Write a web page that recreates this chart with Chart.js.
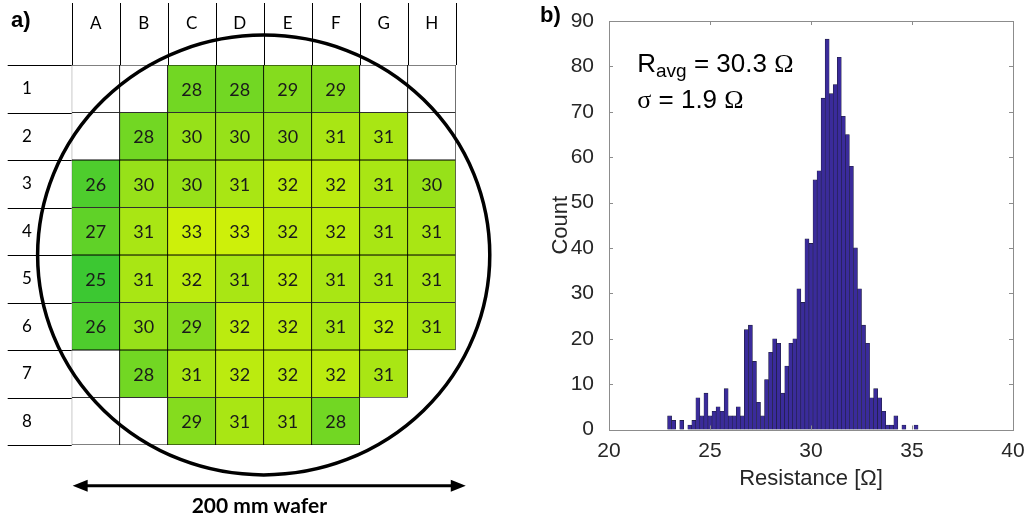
<!DOCTYPE html>
<html lang="en">
<head>
<meta charset="UTF-8">
<title>Wafer resistance map and histogram</title>
<script src="https://cdn.jsdelivr.net/npm/chart.js"></script>
<style>
  body { margin: 0; background: #fff; width: 1029px; height: 529px; overflow: hidden; position: relative; }
  .panel { position: absolute; top: 0; height: 529px; }
  #waferWrap { left: 0; width: 520px; }
  #histWrap { left: 530px; width: 499px; }
</style>
</head>
<body>
<div class="panel" id="waferWrap"><canvas id="waferChart"></canvas></div>
<div class="panel" id="histWrap"><canvas id="histChart"></canvas></div>
<script>
// ---- panel a) die map, values in ohm (null = empty outlined die)
const columns = ['A', 'B', 'C', 'D', 'E', 'F', 'G', 'H'];
const rowLabels = ['1', '2', '3', '4', '5', '6', '7', '8'];
const row1 = [null, null, 28, 28, 29, 29, null, null];
const row2 = [null, 28, 30, 30, 30, 31, 31, null];
const row3 = [26, 30, 30, 31, 32, 32, 31, 30];
const row4 = [27, 31, 33, 33, 32, 32, 31, 31];
const row5 = [25, 31, 32, 31, 32, 31, 31, 31];
const row6 = [26, 30, 29, 32, 32, 31, 32, 31];
const row7 = [null, 28, 31, 32, 32, 32, 31];
const row8 = [null, null, 29, 31, 31, 28];
const waferRows = [row1, row2, row3, row4, row5, row6, row7, row8];

// ---- panel b) histogram
const binStart = 22.9;
const binWidth = 0.2;
const counts = [3, 2, 0, 2, 0, 1, 2, 7, 3, 8, 3, 4, 5, 4, 9, 3, 3, 5, 3, 22,
                23, 15, 6, 3, 11, 17, 20, 19, 8, 14, 19, 20, 31, 28, 42, 41, 55, 57, 73, 86,
                74, 76, 82, 69, 65, 58, 40, 31, 23, 19, 7, 9, 7, 4, 1, 1, 3, 0, 1, 0,
                0, 1];
const xTicks = [20, 25, 30, 35, 40];
const yMax = 90;

// colour scale: low value -> green, high value -> yellow-green
const valueRange = [25, 33];
const colorLow = [60, 200, 50];
const colorHigh = [205, 240, 10];
function cellColor(v) {
    const t = (v - valueRange[0]) / (valueRange[1] - valueRange[0]);
    const c = colorLow.map((lo, k) => Math.round(lo + (colorHigh[k] - lo) * t));
    return 'rgb(' + c.join(',') + ')';
}

const waferDatasets = waferRows.map((row, r) => ({
    label: 'Row ' + rowLabels[r],
    data: row.map(() => [r, r + 1]),
    values: row,
    backgroundColor: row.map(v => v == null ? '#ffffff' : cellColor(v)),
    borderColor: '#000',
    borderWidth: 0.75,
    borderSkipped: false,
    grouped: false,
    barPercentage: 1,
    categoryPercentage: 1
}));

const cellText = {
    id: 'cellText',
    afterDatasetsDraw(chart) {
        const ctx = chart.ctx;
        ctx.save();
        ctx.font = '18px Lato';
        ctx.fillStyle = '#1a1a1a';
        ctx.textAlign = 'center';
        ctx.textBaseline = 'middle';
        chart.data.datasets.forEach((ds, di) => {
            chart.getDatasetMeta(di).data.forEach((bar, i) => {
                const v = ds.values[i];
                if (v == null) return;
                const c = bar.getCenterPoint();
                ctx.fillText(String(v), c.x, c.y + 1);
            });
        });
        ctx.restore();
    }
};

const waferDecor = {
    id: 'waferDecor',
    afterDraw(chart) {
        const ctx = chart.ctx;
        const xs = chart.scales.x, ys = chart.scales.y;
        const area = chart.chartArea;
        ctx.save();
        // header column separators and row label separators
        ctx.strokeStyle = '#000';
        ctx.lineWidth = 1;
        ctx.beginPath();
        for (let i = 0; i <= columns.length; i++) {
            const px = Math.round(xs.getPixelForValue(i - 0.5)) + 0.5;
            ctx.moveTo(px, area.top - 62);
            ctx.lineTo(px, area.top);
        }
        for (let r = 0; r <= rowLabels.length; r++) {
            const py = Math.round(ys.getPixelForValue(r)) + 0.5;
            ctx.moveTo(area.left - 64, py);
            ctx.lineTo(area.left, py);
        }
        ctx.stroke();

        // wafer outline
        const cx = xs.getPixelForValue(3.5), cy = ys.getPixelForValue(4);
        const rx = xs.getPixelForValue(3.5 + 4.71) - cx;
        const ry = ys.getPixelForValue(4 + 4.63) - cy;
        ctx.lineWidth = 3.5;
        ctx.beginPath();
        ctx.ellipse(cx, cy, rx, ry, 0, 0, Math.PI * 2);
        ctx.stroke();

        // 200 mm arrow
        const x1 = xs.getPixelForValue(-0.48), x2 = xs.getPixelForValue(7.71);
        const ay = ys.getPixelForValue(8.86);
        const head = 15, hw = 6;
        ctx.lineWidth = 3;
        ctx.beginPath();
        ctx.moveTo(x1 + head - 2, ay);
        ctx.lineTo(x2 - head + 2, ay);
        ctx.stroke();
        ctx.fillStyle = '#000';
        ctx.beginPath();
        ctx.moveTo(x1, ay); ctx.lineTo(x1 + head, ay - hw); ctx.lineTo(x1 + head, ay + hw); ctx.closePath();
        ctx.moveTo(x2, ay); ctx.lineTo(x2 - head, ay - hw); ctx.lineTo(x2 - head, ay + hw); ctx.closePath();
        ctx.fill();

        ctx.font = 'bold 21px Lato';
        ctx.textAlign = 'center';
        ctx.textBaseline = 'middle';
        ctx.fillText('200 mm wafer', xs.getPixelForValue(3.41), ys.getPixelForValue(9.28));

        ctx.font = 'bold 22px "Liberation Sans"';
        ctx.textAlign = 'left';
        ctx.fillText('a)', 11, 21);
        ctx.restore();
    }
};

new Chart(document.getElementById('waferChart'), {
    type: 'bar',
    data: { labels: columns, datasets: waferDatasets },
    options: {
        responsive: true,
        maintainAspectRatio: false,
        animation: false,
        layout: { padding: { left: 22, top: 0, right: 64.3, bottom: 84 } },
        plugins: { legend: { display: false }, tooltip: { enabled: false } },
        scales: {
            x: {
                type: 'category',
                position: 'top',
                offset: true,
                grid: { display: false },
                border: { display: false },
                ticks: { font: { family: 'Lato', size: 17 }, color: '#000', padding: 23 },
                afterFit: s => { s.height = 65; }
            },
            y: {
                type: 'linear',
                min: 0,
                max: 8,
                reverse: true,
                grid: { display: false },
                border: { display: false },
                afterBuildTicks: s => { s.ticks = rowLabels.map((_, i) => ({ value: i + 0.5 })); },
                ticks: {
                    crossAlign: 'far',
                    autoSkip: false,
                    font: { family: 'Lato', size: 17 },
                    color: '#000',
                    callback: (v, i) => rowLabels[i]
                },
                afterFit: s => { s.width = 49.7; }
            }
        }
    },
    plugins: [cellText, waferDecor]
});

// ---- histogram
const axisGray = '#8c8c8c';
const textGray = '#262626';

const histFrame = {
    id: 'histFrame',
    afterDraw(chart) {
        const ctx = chart.ctx;
        const a = chart.chartArea;
        const xs = chart.scales.x, ys = chart.scales.y;
        const tl = 4;
        ctx.save();
        ctx.strokeStyle = axisGray;
        ctx.lineWidth = 1;
        ctx.strokeRect(Math.round(a.left) + 0.5, Math.round(a.top) + 0.5,
                       Math.round(a.right - a.left), Math.round(a.bottom - a.top));
        ctx.beginPath();
        xs.ticks.forEach(t => {
            const px = Math.round(xs.getPixelForValue(t.value)) + 0.5;
            ctx.moveTo(px, a.bottom); ctx.lineTo(px, a.bottom - tl);
            ctx.moveTo(px, a.top); ctx.lineTo(px, a.top + tl);
        });
        ys.ticks.forEach(t => {
            const py = Math.round(ys.getPixelForValue(t.value)) + 0.5;
            ctx.moveTo(a.left, py); ctx.lineTo(a.left + tl, py);
            ctx.moveTo(a.right, py); ctx.lineTo(a.right - tl, py);
        });
        ctx.stroke();

        // statistics annotation
        ctx.fillStyle = '#000';
        ctx.textBaseline = 'alphabetic';
        ctx.textAlign = 'left';
        const drawRuns = (runs, x, y) => {
            runs.forEach(r => {
                ctx.font = r.font;
                ctx.fillText(r.text, x, y + (r.dy || 0));
                x += ctx.measureText(r.text).width;
            });
        };
        const sans = '26px "Liberation Sans"', serif = '26px "Liberation Serif"';
        const ax = xs.getPixelForValue(21.4);
        drawRuns([
            { text: 'R', font: sans },
            { text: 'avg', font: '19px "Liberation Sans"', dy: 5 },
            { text: ' = 30.3 ', font: sans },
            { text: 'Ω', font: serif }
        ], ax, ys.getPixelForValue(78.7));
        drawRuns([
            { text: 'σ', font: serif },
            { text: ' = 1.9 ', font: sans },
            { text: 'Ω', font: serif }
        ], ax, ys.getPixelForValue(70.8));

        ctx.font = 'bold 22px "Liberation Sans"';
        ctx.textBaseline = 'middle';
        ctx.fillText('b)', 10, 16);
        ctx.restore();
    }
};

new Chart(document.getElementById('histChart'), {
    type: 'bar',
    data: {
        datasets: [{
            label: 'Count',
            data: counts.map((c, i) => ({ x: binStart + (i + 0.5) * binWidth, y: c })),
            backgroundColor: '#3a2b9b',
            borderColor: '#1e1e3a',
            borderWidth: 0.6,
            borderSkipped: false,
            barPercentage: 1,
            categoryPercentage: 1
        }]
    },
    options: {
        responsive: true,
        maintainAspectRatio: false,
        animation: false,
        layout: { padding: { left: 0, top: 21, right: 16, bottom: 0 } },
        plugins: { legend: { display: false }, tooltip: { enabled: false } },
        scales: {
            x: {
                type: 'linear',
                min: xTicks[0],
                max: xTicks[xTicks.length - 1],
                offset: false,
                grid: { display: false },
                border: { display: false },
                afterBuildTicks: s => { s.ticks = xTicks.map(v => ({ value: v })); },
                ticks: { font: { family: 'Liberation Sans', size: 21 }, color: textGray, padding: 1 },
                title: {
                    display: true,
                    text: 'Resistance [Ω]',
                    font: { family: 'Liberation Sans', size: 22 },
                    color: textGray,
                    padding: { top: 0, bottom: 37 }
                },
                afterFit: s => { s.height = 99.5; }
            },
            y: {
                min: 0,
                max: yMax,
                grid: { display: false },
                border: { display: false },
                ticks: { stepSize: 10, font: { family: 'Liberation Sans', size: 21 }, color: textGray, padding: 7 },
                title: {
                    display: true,
                    text: 'Count',
                    font: { family: 'Liberation Sans', size: 22 },
                    color: textGray,
                    padding: { top: 18, bottom: 0 }
                },
                afterFit: s => { s.width = 79; }
            }
        }
    },
    plugins: [histFrame]
});
</script>
</body>
</html>
